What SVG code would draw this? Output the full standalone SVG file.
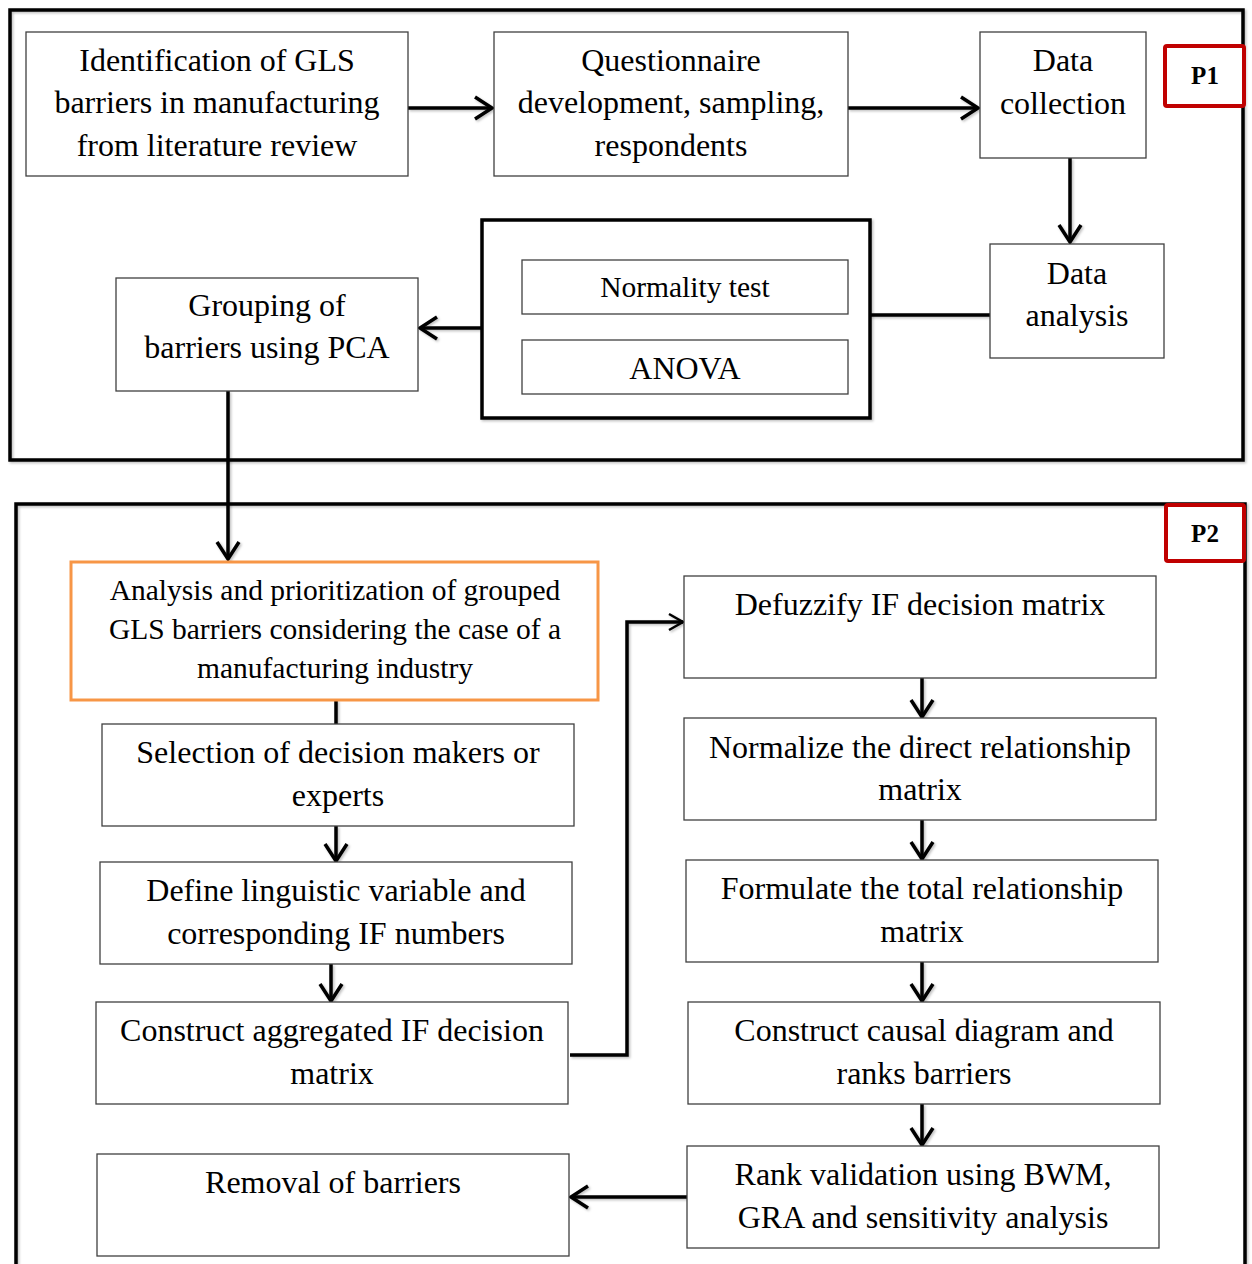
<svg xmlns="http://www.w3.org/2000/svg" width="1252" height="1264" viewBox="0 0 1252 1264">
  <defs>
    <filter id="soft" x="-5%" y="-5%" width="110%" height="110%">
      <feDropShadow dx="1.5" dy="1.5" stdDeviation="1" flood-color="#000" flood-opacity="0.25"/>
    </filter>
    <marker id="chev" markerUnits="userSpaceOnUse" markerWidth="24" markerHeight="26" viewBox="0 0 24 26" refX="20" refY="13" orient="auto">
      <path d="M3,2 L20,13 L3,24" fill="none" stroke="#000" stroke-width="3.5" stroke-linejoin="miter"/>
    </marker>
    <marker id="chevThin" markerUnits="userSpaceOnUse" markerWidth="20" markerHeight="22" viewBox="0 0 20 22" refX="17" refY="11" orient="auto">
      <path d="M3,3 L17,11 L3,19" fill="none" stroke="#000" stroke-width="2.5"/>
    </marker>
  </defs>
  <style>
    .box { fill: #fff; stroke: #404040; stroke-width: 1.3; }
    .frame { fill: none; stroke: #000; stroke-width: 3.5; }
    .tag { fill: #fff; stroke: #c00000; stroke-width: 4; }
    .t { font-family: "Liberation Serif", "Times New Roman", serif; font-size: 32px; fill: #000; text-anchor: middle; }
    .ts { font-size: 29.5px; }
    .lbl { font-family: "Liberation Serif", "Times New Roman", serif; font-size: 25px; font-weight: bold; fill: #000; text-anchor: middle; }
    .c { fill: none; stroke: #000; stroke-width: 3.5; }
  </style>

  <rect width="1252" height="1264" fill="#fff"/>

  <!-- phase frames -->
  <g id="phase1" filter="url(#soft)">
    <rect class="frame" x="10" y="10" width="1233" height="450"/>
  </g>
  <g id="phase2" filter="url(#soft)">
    <rect class="frame" x="16" y="504" width="1229" height="800"/>
  </g>
  <g id="tag-p1">
    <rect class="tag" x="1165" y="46" width="79" height="60" rx="2"/>
    <text class="lbl" x="1205" y="84">P1</text>
  </g>
  <g id="tag-p2">
    <rect class="tag" x="1166" y="505" width="78" height="56" rx="2"/>
    <text class="lbl" x="1205" y="542">P2</text>
  </g>

  <!-- connectors -->
  <g id="connectors" filter="url(#soft)">
    <line class="c" x1="408" y1="108" x2="492" y2="108" marker-end="url(#chev)"/>
    <line class="c" x1="848" y1="108" x2="978" y2="108" marker-end="url(#chev)"/>
    <line class="c" x1="1070" y1="158" x2="1070" y2="242" marker-end="url(#chev)"/>
    <line class="c" x1="870" y1="315" x2="990" y2="315"/>
    <line class="c" x1="482" y1="328" x2="420" y2="328" marker-end="url(#chev)"/>
    <line class="c" x1="228" y1="391" x2="228" y2="559" marker-end="url(#chev)"/>
    <line class="c" x1="336" y1="700" x2="336" y2="724"/>
    <line class="c" x1="336" y1="826" x2="336" y2="861" marker-end="url(#chev)"/>
    <line class="c" x1="331" y1="964" x2="331" y2="1001" marker-end="url(#chev)"/>
    <polyline class="c" points="570,1055 627,1055 627,622 683,622" stroke-width="2.5" marker-end="url(#chevThin)"/>
    <line class="c" x1="922" y1="678" x2="922" y2="717" marker-end="url(#chev)"/>
    <line class="c" x1="922" y1="820" x2="922" y2="859" marker-end="url(#chev)"/>
    <line class="c" x1="922" y1="962" x2="922" y2="1001" marker-end="url(#chev)"/>
    <line class="c" x1="922" y1="1104" x2="922" y2="1145" marker-end="url(#chev)"/>
    <line class="c" x1="688" y1="1197" x2="571" y2="1197" marker-end="url(#chev)"/>
  </g>

  <!-- phase 1 nodes -->
  <g id="identification">
    <rect class="box" x="26" y="32" width="382" height="144"/>
    <text class="t" x="217" y="71">Identification of GLS</text>
    <text class="t" x="217" y="113">barriers in manufacturing</text>
    <text class="t" x="217" y="156">from literature review</text>
  </g>
  <g id="questionnaire">
    <rect class="box" x="494" y="32" width="354" height="144"/>
    <text class="t" x="671" y="71">Questionnaire</text>
    <text class="t" x="671" y="113">development, sampling,</text>
    <text class="t" x="671" y="156">respondents</text>
  </g>
  <g id="data-collection">
    <rect class="box" x="980" y="32" width="166" height="126"/>
    <text class="t" x="1063" y="71">Data</text>
    <text class="t" x="1063" y="114">collection</text>
  </g>
  <g id="data-analysis">
    <rect class="box" x="990" y="244" width="174" height="114"/>
    <text class="t" x="1077" y="284">Data</text>
    <text class="t" x="1077" y="326">analysis</text>
  </g>
  <g id="tests" filter="url(#soft)">
    <rect x="482" y="220" width="388" height="198" fill="#fff" stroke="#000" stroke-width="3.5"/>
  </g>
  <g id="normality-test">
    <rect class="box" x="522" y="260" width="326" height="54"/>
    <text class="t ts" x="685" y="297">Normality test</text>
  </g>
  <g id="anova">
    <rect class="box" x="522" y="340" width="326" height="54"/>
    <text class="t" x="685" y="379">ANOVA</text>
  </g>
  <g id="grouping">
    <rect class="box" x="116" y="278" width="302" height="113"/>
    <text class="t" x="267" y="316">Grouping of</text>
    <text class="t" x="267" y="358">barriers using PCA</text>
  </g>

  <!-- phase 2 nodes -->
  <g id="analysis">
    <rect x="71" y="562" width="527" height="138" fill="#fff" stroke="#f79646" stroke-width="3"/>
    <text class="t ts" x="335" y="600">Analysis and prioritization of grouped</text>
    <text class="t ts" x="335" y="639">GLS barriers considering the case of a</text>
    <text class="t ts" x="335" y="678">manufacturing industry</text>
  </g>
  <g id="selection">
    <rect class="box" x="102" y="724" width="472" height="102"/>
    <text class="t" x="338" y="763">Selection of decision makers or</text>
    <text class="t" x="338" y="806">experts</text>
  </g>
  <g id="linguistic">
    <rect class="box" x="100" y="862" width="472" height="102"/>
    <text class="t" x="336" y="901">Define linguistic variable and</text>
    <text class="t" x="336" y="944">corresponding IF numbers</text>
  </g>
  <g id="aggregated">
    <rect class="box" x="96" y="1002" width="472" height="102"/>
    <text class="t" x="332" y="1041">Construct aggregated IF decision</text>
    <text class="t" x="332" y="1084">matrix</text>
  </g>
  <g id="removal">
    <rect class="box" x="97" y="1154" width="472" height="102"/>
    <text class="t" x="333" y="1193">Removal of barriers</text>
  </g>
  <g id="defuzzify">
    <rect class="box" x="684" y="576" width="472" height="102"/>
    <text class="t" x="920" y="615">Defuzzify IF decision matrix</text>
  </g>
  <g id="normalize">
    <rect class="box" x="684" y="718" width="472" height="102"/>
    <text class="t" x="920" y="758">Normalize the direct relationship</text>
    <text class="t" x="920" y="800">matrix</text>
  </g>
  <g id="total-relationship">
    <rect class="box" x="686" y="860" width="472" height="102"/>
    <text class="t" x="922" y="899">Formulate the total relationship</text>
    <text class="t" x="922" y="942">matrix</text>
  </g>
  <g id="causal-diagram">
    <rect class="box" x="688" y="1002" width="472" height="102"/>
    <text class="t" x="924" y="1041">Construct causal diagram and</text>
    <text class="t" x="924" y="1084">ranks barriers</text>
  </g>
  <g id="rank-validation">
    <rect class="box" x="687" y="1146" width="472" height="102"/>
    <text class="t" x="923" y="1185">Rank validation using BWM,</text>
    <text class="t" x="923" y="1228">GRA and sensitivity analysis</text>
  </g>
</svg>
